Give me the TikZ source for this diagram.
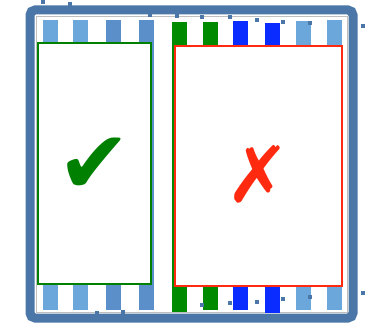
\documentclass[tikz,border=0pt]{standalone}
\usepackage{fontspec}
\newfontfamily\symfont{DejaVu Sans}
\usetikzlibrary{positioning}
\definecolor{framblue}{HTML}{4A76A8}
\definecolor{barlight}{HTML}{6BA7DB}
\definecolor{barmid}{HTML}{5B8FCA}
\definecolor{bargreen}{HTML}{008A00}
\definecolor{barblue}{HTML}{0A2CFF}
\definecolor{okgreen}{HTML}{008000}
\definecolor{badred}{HTML}{FF2A10}
\tikzset{
  % ramen
  frame/.style={draw=framblue,line width=9pt,rounded corners=5pt},
  innerline/.style={draw=black!25,line width=0.8pt},
  bar/.style={fill=#1,draw=none},
  dot/.style={fill=framblue,draw=none,minimum size=4pt,inner sep=0pt},
  % rutor
  okbox/.style={draw=okgreen,fill=white,line width=1.3pt,inner sep=0pt,
                minimum width=113pt,minimum height=241pt},
  badbox/.style={draw=badred,fill=white,line width=1.3pt,inner sep=0pt,
                 minimum width=167pt,minimum height=240pt},
  sign/.style={font=\symfont\fontsize{#1}{#1}\selectfont,inner sep=0pt},
}
\begin{document}
\begin{tikzpicture}[x=1pt,y=-1pt]
\useasboundingbox (0,0) rectangle (386,329);
  \draw[frame] (30,10) rectangle (353,318);
  \draw[innerline] (36,16) rectangle (347,312);
  % staplar
  \foreach \x/\c/\t/\b in {43/barlight/20/310, 73/barlight/20/310,
      106/barmid/20/310, 139/barmid/20/310, 172/bargreen/22/312,
      203/bargreen/22/310, 233/barblue/21/310, 265/barblue/23/313,
      296/barlight/21/310, 327/barlight/20/310}
    \fill[bar=\c] (\x,\t) rectangle ++(15,\b-\t);
  % punkter
  \foreach \p/\q [count=\i] in {43/2, 70/4, 150/15, 177/16, 202/17, 230/17,
      257/20, 283/22, 310/23, 363/26, 97/313, 123/312, 202/305, 230/303,
      257/302, 283/299, 310/297, 363/293}
    \node[dot] (d\i) at (\p,\q) {};
  \node[okbox] (ok) at (94.5,163.5) {};
  \node[badbox] (bad) at (258.5,166) {};
  \node[sign=88,text=okgreen] (check) at ([yshift=-2pt]ok.center) {✔};
  \node[sign=78,text=badred] (cross) at ([yshift=-8pt]bad.center) {✗};
\end{tikzpicture}
\end{document}
